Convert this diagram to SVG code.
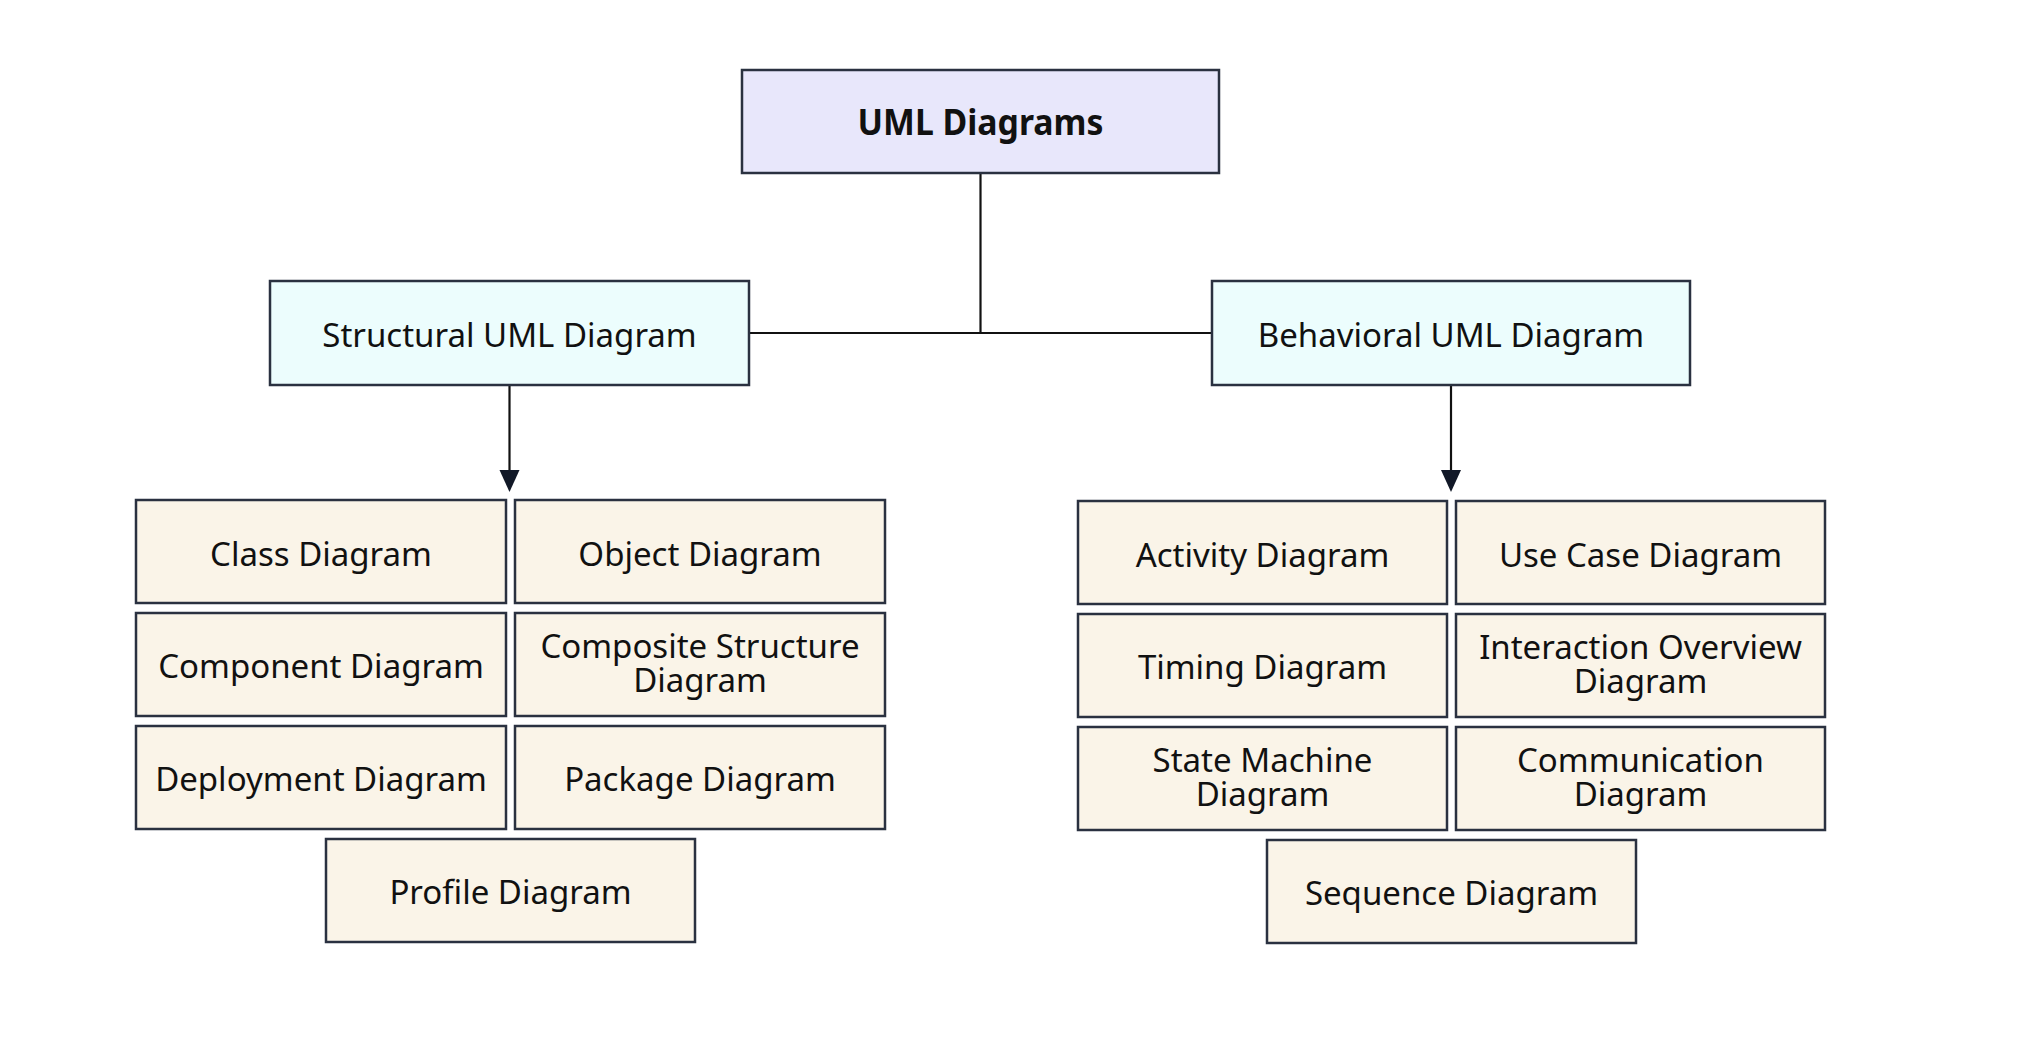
<svg xmlns="http://www.w3.org/2000/svg" width="2025" height="1040" viewBox="0 0 2025 1040">
<style>
  .box { stroke: #2a3140; stroke-width: 2.5; }
  .root { fill: #E8E7FB; }
  .cat { fill: #ECFDFD; }
  .leaf { fill: #FAF4E8; }
  text { font-family: "Noto Sans", "Open Sans", sans-serif; font-size: 33px; fill: #111; text-anchor: middle; }
  .bold { font-weight: bold; font-size: 36px; }
  .conn { stroke: #111; stroke-width: 2.2; fill: none; }
</style>
<rect width="2025" height="1040" fill="#ffffff"/>

<g id="connectors">
  <path class="conn" d="M980.5,172 V333"/>
  <path class="conn" d="M749,333 H1212"/>
  <path class="conn" d="M509.5,385 V470"/>
  <path class="conn" d="M1451,385 V470"/>
  <path d="M499.5,470 L519.5,470 L509.5,492 Z" fill="#111827"/>
  <path d="M1441,470 L1461,470 L1451,492 Z" fill="#111827"/>
</g>

<g id="uml-diagrams">
  <rect class="box root" x="742" y="70" width="477" height="103"/>
  <text class="bold" x="980.5" y="135" textLength="246" lengthAdjust="spacingAndGlyphs">UML Diagrams</text>
</g>

<g id="structural">
  <rect class="box cat" x="270" y="281" width="479" height="104"/>
  <text x="509.5" y="347">Structural UML Diagram</text>
</g>
<g id="behavioral">
  <rect class="box cat" x="1212" y="281" width="478" height="104"/>
  <text x="1451" y="347">Behavioral UML Diagram</text>
</g>

<g id="class-diagram">
  <rect class="box leaf" x="136" y="500" width="370" height="103"/>
  <text x="321" y="566">Class Diagram</text>
</g>
<g id="object-diagram">
  <rect class="box leaf" x="515" y="500" width="370" height="103"/>
  <text x="700" y="566">Object Diagram</text>
</g>
<g id="component-diagram">
  <rect class="box leaf" x="136" y="613" width="370" height="103"/>
  <text x="321" y="678">Component Diagram</text>
</g>
<g id="composite-structure-diagram">
  <rect class="box leaf" x="515" y="613" width="370" height="103"/>
  <text x="700" y="658">Composite Structure</text>
  <text x="700" y="692">Diagram</text>
</g>
<g id="deployment-diagram">
  <rect class="box leaf" x="136" y="726" width="370" height="103"/>
  <text x="321" y="791">Deployment Diagram</text>
</g>
<g id="package-diagram">
  <rect class="box leaf" x="515" y="726" width="370" height="103"/>
  <text x="700" y="791">Package Diagram</text>
</g>
<g id="profile-diagram">
  <rect class="box leaf" x="326" y="839" width="369" height="103"/>
  <text x="510.5" y="904">Profile Diagram</text>
</g>

<g id="activity-diagram">
  <rect class="box leaf" x="1078" y="501" width="369" height="103"/>
  <text x="1262.5" y="567">Activity Diagram</text>
</g>
<g id="use-case-diagram">
  <rect class="box leaf" x="1456" y="501" width="369" height="103"/>
  <text x="1640.5" y="567">Use Case Diagram</text>
</g>
<g id="timing-diagram">
  <rect class="box leaf" x="1078" y="614" width="369" height="103"/>
  <text x="1262.5" y="679">Timing Diagram</text>
</g>
<g id="interaction-overview-diagram">
  <rect class="box leaf" x="1456" y="614" width="369" height="103"/>
  <text x="1640.5" y="659">Interaction Overview</text>
  <text x="1640.5" y="693">Diagram</text>
</g>
<g id="state-machine-diagram">
  <rect class="box leaf" x="1078" y="727" width="369" height="103"/>
  <text x="1262.5" y="772">State Machine</text>
  <text x="1262.5" y="806">Diagram</text>
</g>
<g id="communication-diagram">
  <rect class="box leaf" x="1456" y="727" width="369" height="103"/>
  <text x="1640.5" y="772">Communication</text>
  <text x="1640.5" y="806">Diagram</text>
</g>
<g id="sequence-diagram">
  <rect class="box leaf" x="1267" y="840" width="369" height="103"/>
  <text x="1451.5" y="905">Sequence Diagram</text>
</g>
</svg>
